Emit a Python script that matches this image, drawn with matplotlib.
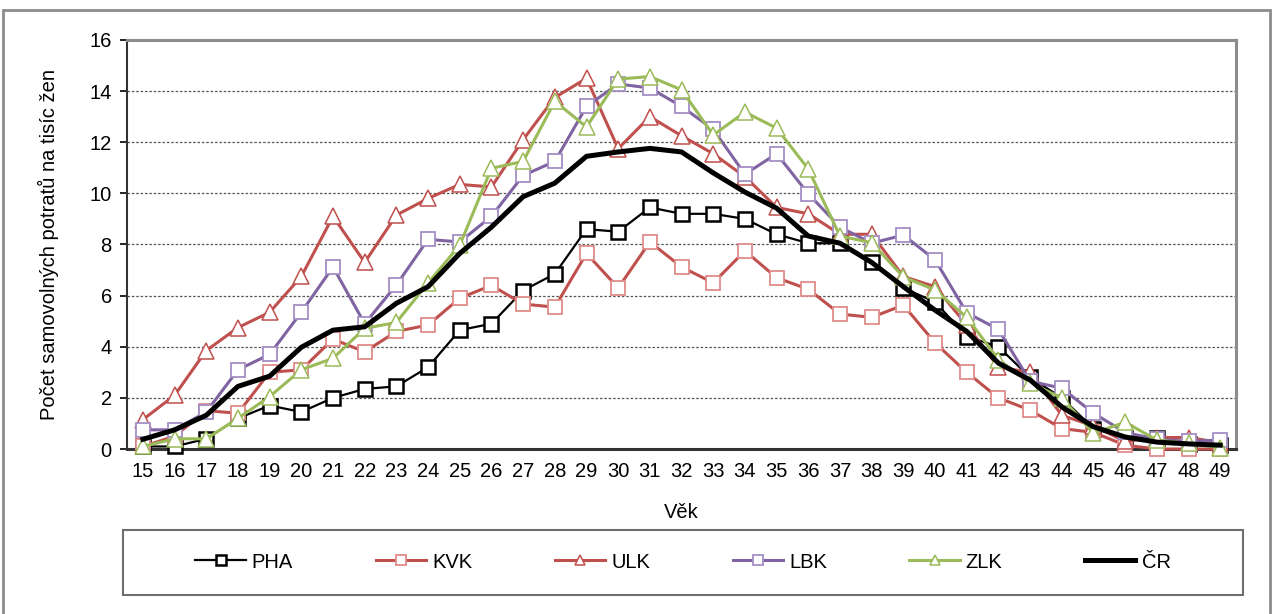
import numpy as np
import matplotlib.pyplot as plt
from matplotlib.patches import Rectangle

plt.rcParams['font.family'] = ['Liberation Sans', 'DejaVu Sans']

# age groups and abortion rates per 1000 women by region
vek = list(range(15, 50))

pha = [0.1, 0.1, 0.4, 1.2, 1.7, 1.45, 2.0, 2.35, 2.45, 3.2, 4.65, 4.9, 6.2, 6.85, 8.6, 8.5,
       9.45, 9.2, 9.2, 9.0, 8.4, 8.05, 8.05, 7.3, 6.3, 5.75, 4.4, 4.0, 2.8, 2.0, 0.8, 0.45,
       0.45, 0.2, 0.15]
kvk = [0.1, 0.5, 1.5, 1.4, 3.0, 3.1, 4.3, 3.8, 4.6, 4.85, 5.9, 6.4, 5.67, 5.55, 7.65, 6.3,
       8.1, 7.12, 6.5, 7.75, 6.7, 6.25, 5.28, 5.15, 5.63, 4.15, 3.0, 2.0, 1.52, 0.8, 0.65,
       0.15, 0.0, 0.0, 0.0]
ulk = [1.15, 2.1, 3.85, 4.75, 5.35, 6.75, 9.1, 7.3, 9.15, 9.8, 10.35, 10.25, 12.1, 13.75,
       14.5, 11.75, 13.0, 12.25, 11.55, 10.65, 9.45, 9.2, 8.4, 8.4, 6.75, 6.35, 4.85, 3.2,
       3.0, 1.32, 0.9, 0.3, 0.45, 0.45, 0.25]
lbk = [0.75, 0.75, 1.45, 3.1, 3.7, 5.35, 7.12, 4.9, 6.42, 8.2, 8.1, 9.1, 10.7, 11.25, 13.4,
       14.28, 14.12, 13.4, 12.5, 10.75, 11.55, 9.98, 8.68, 8.05, 8.37, 7.4, 5.33, 4.68,
       2.65, 2.38, 1.4, 0.65, 0.38, 0.3, 0.35]
zlk = [0.1, 0.4, 0.4, 1.2, 2.05, 3.1, 3.55, 4.72, 4.95, 6.5, 7.97, 10.98, 11.25, 13.6, 12.6,
       14.47, 14.57, 14.05, 12.28, 13.18, 12.55, 10.95, 8.33, 8.07, 6.73, 6.22, 5.15, 3.5,
       2.58, 2.0, 0.62, 1.05, 0.35, 0.22, 0.05]
cr = [0.38, 0.75, 1.32, 2.45, 2.85, 3.98, 4.65, 4.78, 5.7, 6.35, 7.65, 8.68, 9.87, 10.4,
      11.45, 11.62, 11.76, 11.62, 10.8, 10.05, 9.42, 8.33, 8.05, 7.3, 6.35, 5.43, 4.6, 3.36,
      2.7, 1.65, 0.87, 0.47, 0.27, 0.2, 0.15]

fig = plt.figure(figsize=(12.73, 6.14), dpi=100)
ax = fig.add_axes([0.0998, 0.2687, 0.8712, 0.6662])

x = np.arange(len(vek))
red = '#C0504D'
common = dict(clip_on=False, zorder=3)
ax.plot(x, pha, color='black', lw=1.6, marker='s', ms=10.5, mfc='white', mec='black',
        mew=1.8, label='PHA', **common)
ax.plot(x, kvk, color=red, lw=2.2, marker='s', ms=10.5, mfc='white', mec='#E08C8A',
        mew=1.3, label='KVK', **common)
ax.plot(x, ulk, color=red, lw=2.2, marker='^', ms=11, mfc='white', mec=red,
        mew=1.1, label='ULK', **common)
ax.plot(x, lbk, color='#8064A2', lw=2.2, marker='s', ms=10.5, mfc='white', mec='#A48FC4',
        mew=1.3, label='LBK', **common)
ax.plot(x, zlk, color='#9BBB59', lw=2.2, marker='^', ms=11, mfc='white', mec='#9BBB59',
        mew=1.1, label='ZLK', **common)
ax.plot(x, cr, color='black', lw=3.6, label='ČR', zorder=4, solid_joinstyle='round',
        clip_on=False)

ax.set_xlim(-0.5, len(vek) - 0.5)
ax.set_ylim(0, 16)
ax.set_xticks(x)
ax.set_xticklabels(vek)
ax.set_yticks(range(0, 17, 2))
ax.tick_params(axis='both', labelsize=14.5)
ax.tick_params(axis='x', length=0, pad=9)
ax.tick_params(axis='y', length=5, width=1.2, pad=6)
ax.yaxis.grid(True, linestyle=(0, (2, 1.5)), color='#555555', lw=0.9)
ax.set_axisbelow(True)

for s in ['top', 'right']:
    ax.spines[s].set_color('#8c8c8c')
    ax.spines[s].set_linewidth(2.2)
ax.spines['left'].set_linewidth(1.5)
ax.spines['bottom'].set_linewidth(2.2)
ax.spines['left'].set_color('#333333')
ax.spines['bottom'].set_color('#333333')

ax.set_xlabel('Věk', fontsize=14.5, labelpad=16)
ax.set_ylabel('Počet samovolných potratů na tisíc žen', fontsize=14.5, labelpad=22)

# outer chart frame
fig.patches.append(Rectangle((3 / 1273, -0.01), 1270 / 1273 - 3 / 1273, 1 - 10 / 614 + 0.01,
                             transform=fig.transFigure, fill=False, ec='#8c8c8c', lw=2))

leg = fig.legend(loc='center', bbox_to_anchor=(683 / 1273, 1 - 562 / 614),
                 ncol=6, fontsize=14.5, handlelength=2.5, columnspacing=4.1, handletextpad=0.3,
                 frameon=False, markerscale=0.7)
fig.patches.append(Rectangle((123 / 1273, 1 - 595 / 614), 1120 / 1273, 65 / 614,
                             transform=fig.transFigure, fill=False, ec='#6e6e6e', lw=1.5))

fig.savefig('out.png', dpi=100)
